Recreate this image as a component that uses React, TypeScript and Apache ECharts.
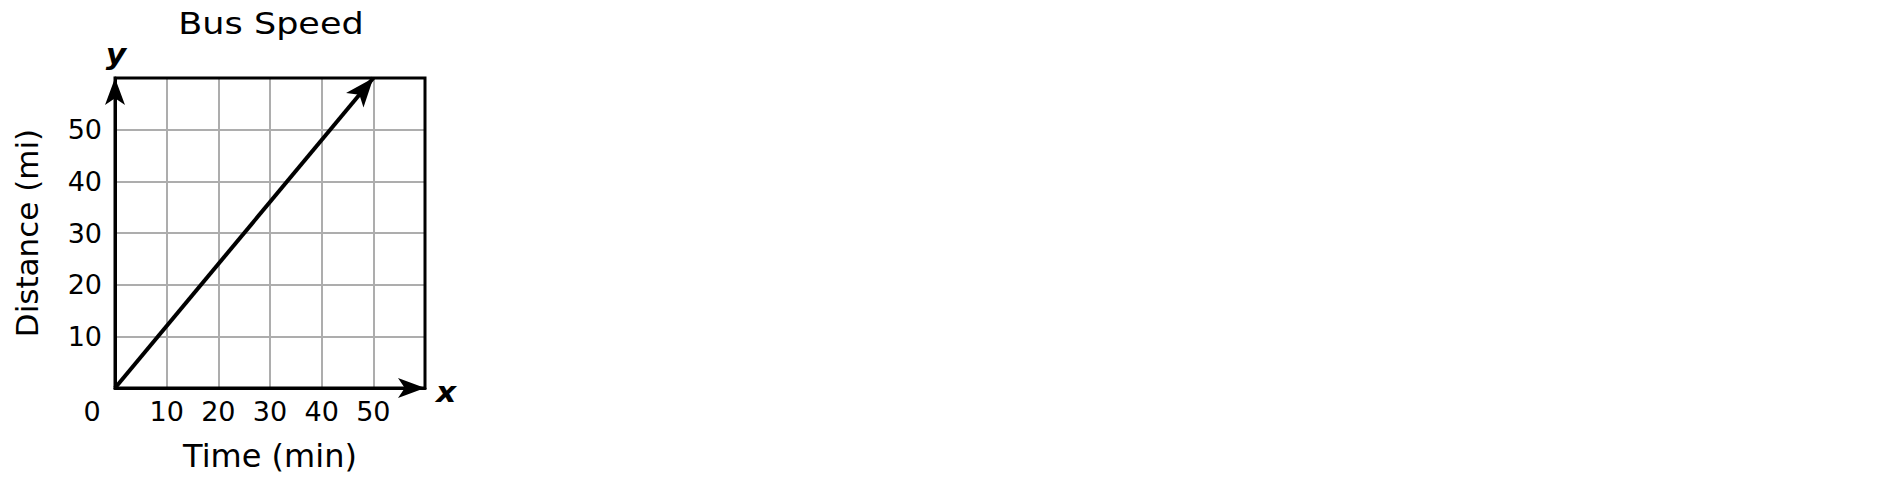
import { useEffect, useRef } from "react";
import * as echarts from "echarts";

// Bus Speed: distance (mi) against time (min).
const TIME = [0, 50];
const DISTANCE = [0, 60];

const X_TICKS = [0, 10, 20, 30, 40, 50];
const Y_TICKS = [10, 20, 30, 40, 50];

const FONT = "'DejaVu Sans', Verdana, sans-serif";
const INK = "#000";
const GRID_GRAY = "#adadad";

// Both axes span 0..60 over a square plot, so the screen angle equals the data angle.
const n = TIME.length - 1;
const lineAngle = (Math.atan2(TIME[n] - TIME[n - 1], DISTANCE[n] - DISTANCE[n - 1]) * 180) / Math.PI;

function buildOption() {
  const axisLine = {
    show: true,
    onZero: false,
    symbol: ["none", "arrow"],
    symbolSize: [15, 27],
    lineStyle: { color: INK, width: 3 },
  };
  return {
    animation: false,
    textStyle: { fontFamily: FONT, color: INK },
    grid: {
      left: 115,
      top: 78,
      width: 310,
      height: 310,
      show: true,
      borderColor: INK,
      borderWidth: 3,
      z: 3,
    },
    graphic: [
      {
        type: "text",
        x: 271,
        y: 23.5,
        scaleX: 1.13,
        style: { text: "Bus Speed", font: `31px ${FONT}`, fill: INK, textAlign: "center", textVerticalAlign: "middle" },
      },
      {
        type: "text",
        x: 116,
        y: 54,
        scaleX: 1.08,
        style: { text: "y", font: `italic bold 29px ${FONT}`, fill: INK, textAlign: "center", textVerticalAlign: "middle" },
      },
      {
        type: "text",
        x: 446,
        y: 392,
        scaleX: 1.08,
        style: { text: "x", font: `italic bold 29px ${FONT}`, fill: INK, textAlign: "center", textVerticalAlign: "middle" },
      },
    ],
    xAxis: {
      type: "value",
      min: 0,
      max: 60,
      interval: 10,
      name: "Time (min)",
      nameLocation: "middle",
      nameGap: 52,
      nameTextStyle: { fontSize: 32, color: INK, fontFamily: FONT },
      axisLine,
      axisTick: { show: false },
      axisLabel: {
        margin: 10,
        fontSize: 27,
        color: INK,
        fontFamily: FONT,
        showMinLabel: true,
        showMaxLabel: true,
        formatter: (v: number) => (v === 0 ? "{zero|0}" : X_TICKS.includes(v) ? String(v) : ""),
        rich: { zero: { fontSize: 27, padding: [0, 46, 0, 0] } },
      },
      splitLine: { show: true, lineStyle: { color: GRID_GRAY, width: 2 } },
      z: 2,
    },
    yAxis: {
      type: "value",
      min: 0,
      max: 60,
      interval: 10,
      name: "Distance (mi)",
      nameLocation: "middle",
      nameGap: 73,
      nameTextStyle: { fontSize: 31, color: INK, fontFamily: FONT },
      axisLine,
      axisTick: { show: false },
      axisLabel: {
        margin: 13,
        fontSize: 27,
        color: INK,
        fontFamily: FONT,
        formatter: (v: number) => (Y_TICKS.includes(v) ? String(v) : ""),
      },
      splitLine: { show: true, lineStyle: { color: GRID_GRAY, width: 2 } },
      z: 2,
    },
    series: [
      {
        type: "line",
        z: 4,
        symbol: "arrow",
        symbolSize: [17, 29],
        lineStyle: { color: INK, width: 4 },
        itemStyle: { color: INK },
        data: TIME.map((t, i) =>
          i === n
            ? { value: [t, DISTANCE[i]], symbolRotate: -lineAngle }
            : { value: [t, DISTANCE[i]], symbol: "none" },
        ),
      },
    ],
  };
}

export default function App() {
  const boxRef = useRef<HTMLDivElement>(null);
  useEffect(() => {
    if (!boxRef.current) return;
    const chart = echarts.init(boxRef.current, undefined, { renderer: "svg" });
    chart.setOption(buildOption());
    return () => chart.dispose();
  }, []);
  return (
    <div
      ref={boxRef}
      style={{ position: "absolute", left: 0, top: 0, width: 1904, height: 492, background: "#fff" }}
    />
  );
}
